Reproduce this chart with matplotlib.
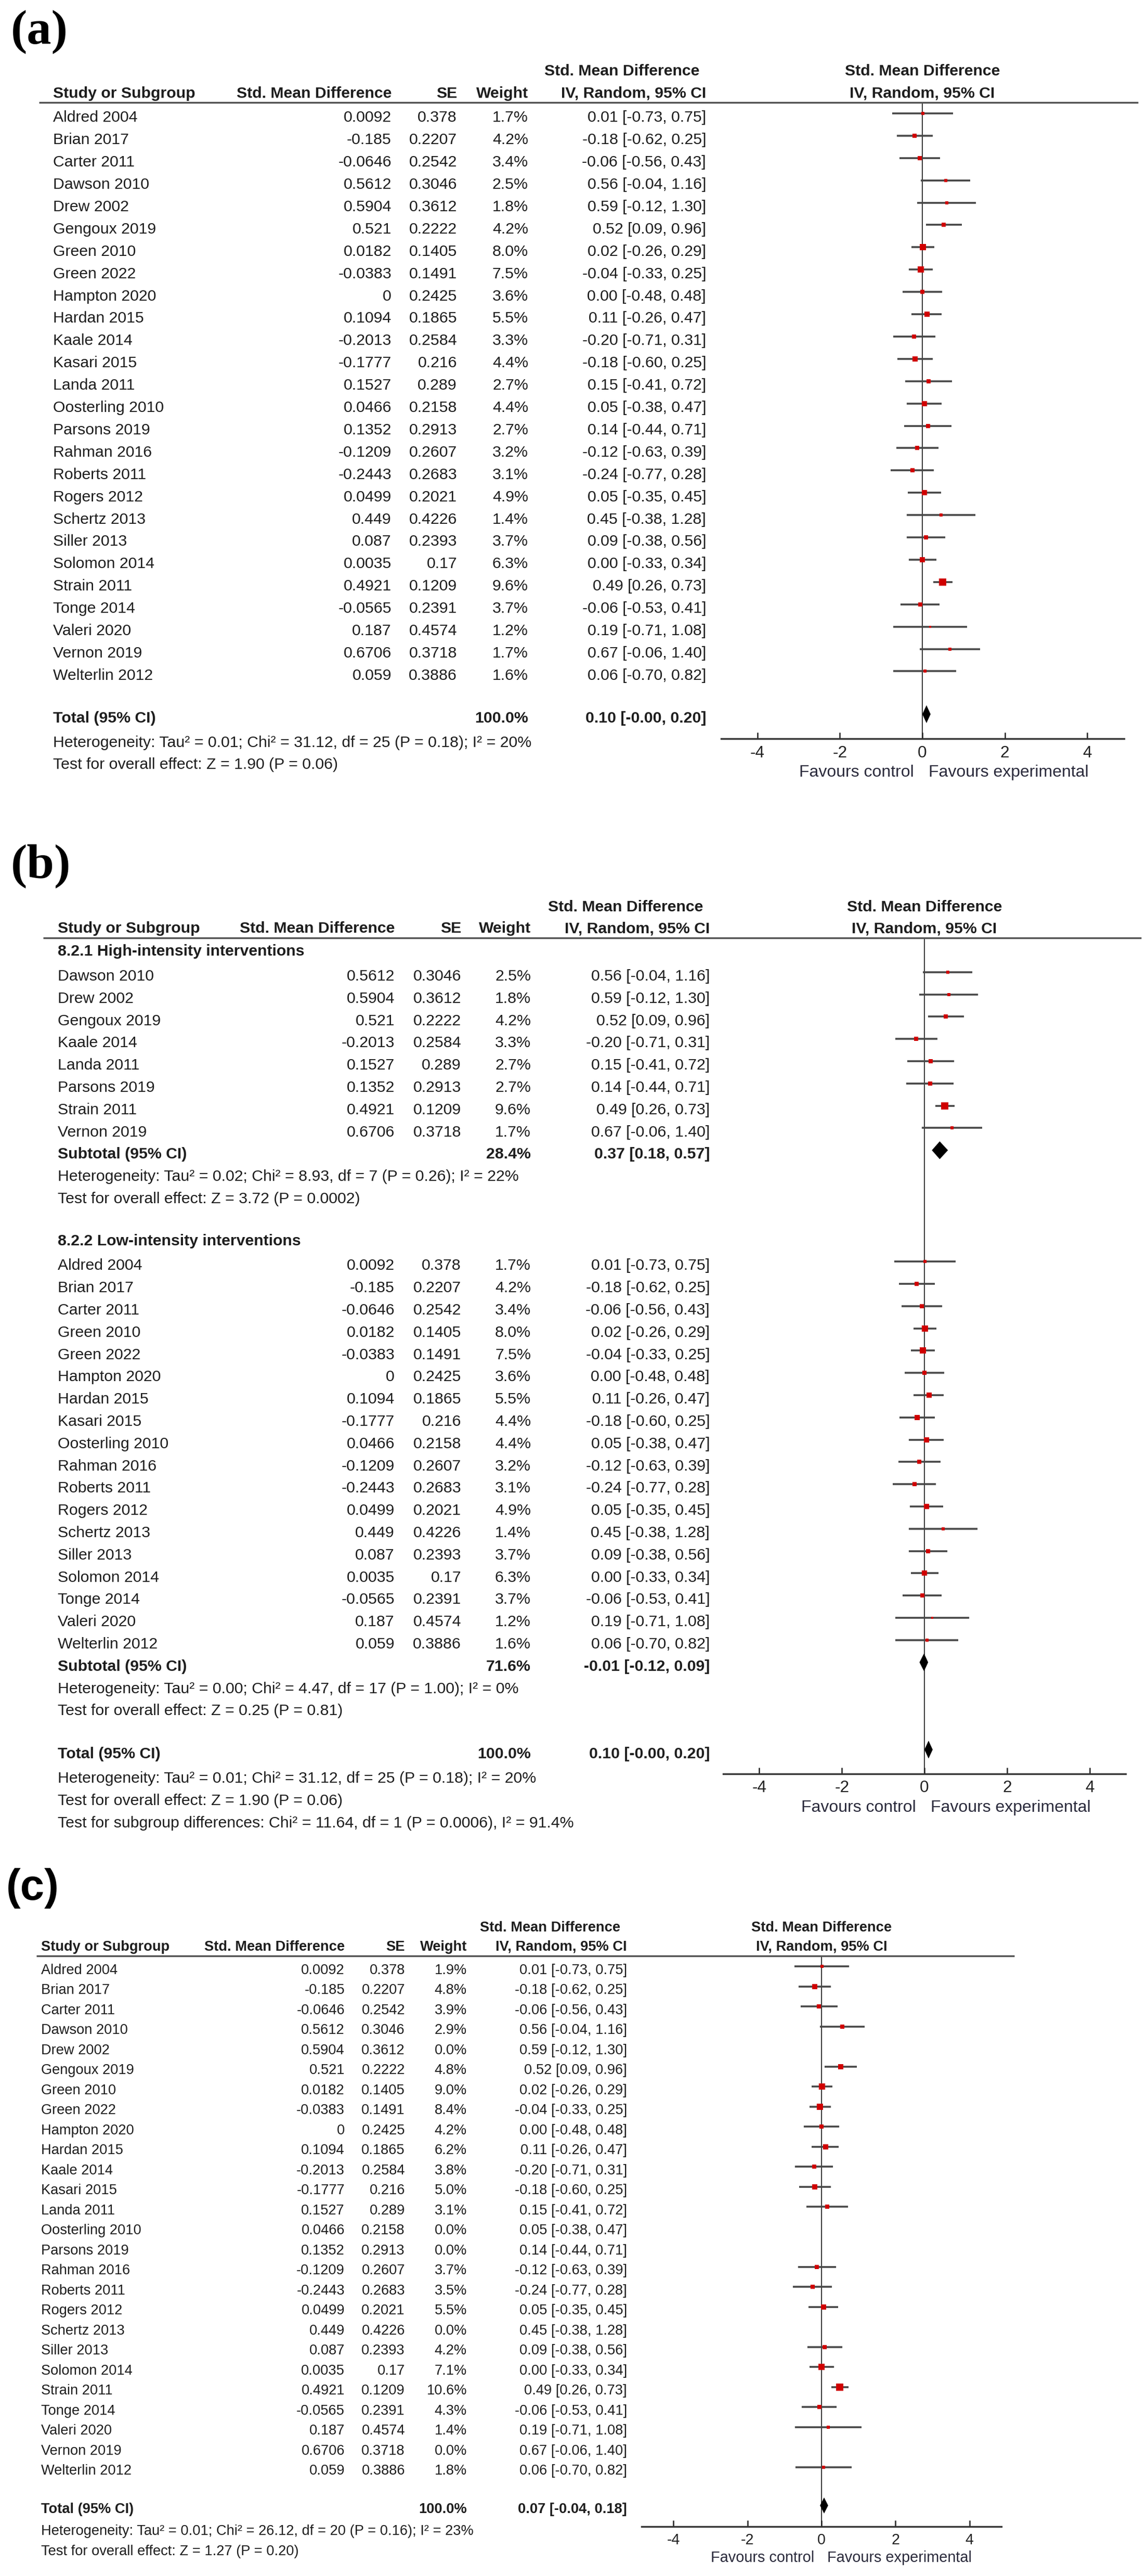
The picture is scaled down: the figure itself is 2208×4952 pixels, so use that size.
import numpy as np
import matplotlib
matplotlib.use("Agg")
import matplotlib.pyplot as plt
import matplotlib.transforms as mtransforms

plt.rcParams["font.family"] = ["Liberation Sans", "DejaVu Sans"]

# ------------------------------------------------------------
# data
# ------------------------------------------------------------
studies = ["Aldred 2004", "Brian 2017", "Carter 2011", "Dawson 2010", "Drew 2002",
           "Gengoux 2019", "Green 2010", "Green 2022", "Hampton 2020", "Hardan 2015",
           "Kaale 2014", "Kasari 2015", "Landa 2011", "Oosterling 2010", "Parsons 2019",
           "Rahman 2016", "Roberts 2011", "Rogers 2012", "Schertz 2013", "Siller 2013",
           "Solomon 2014", "Strain 2011", "Tonge 2014", "Valeri 2020", "Vernon 2019",
           "Welterlin 2012"]
smd = [0.0092, -0.185, -0.0646, 0.5612, 0.5904, 0.521, 0.0182, -0.0383, 0, 0.1094,
       -0.2013, -0.1777, 0.1527, 0.0466, 0.1352, -0.1209, -0.2443, 0.0499, 0.449, 0.087,
       0.0035, 0.4921, -0.0565, 0.187, 0.6706, 0.059]
se = [0.378, 0.2207, 0.2542, 0.3046, 0.3612, 0.2222, 0.1405, 0.1491, 0.2425, 0.1865,
      0.2584, 0.216, 0.289, 0.2158, 0.2913, 0.2607, 0.2683, 0.2021, 0.4226, 0.2393,
      0.17, 0.1209, 0.2391, 0.4574, 0.3718, 0.3886]
ci_lo = [-0.73, -0.62, -0.56, -0.04, -0.12, 0.09, -0.26, -0.33, -0.48, -0.26,
         -0.71, -0.60, -0.41, -0.38, -0.44, -0.63, -0.77, -0.35, -0.38, -0.38,
         -0.33, 0.26, -0.53, -0.71, -0.06, -0.70]
ci_hi = [0.75, 0.25, 0.43, 1.16, 1.30, 0.96, 0.29, 0.25, 0.48, 0.47,
         0.31, 0.25, 0.72, 0.47, 0.71, 0.39, 0.28, 0.45, 1.28, 0.56,
         0.34, 0.73, 0.41, 1.08, 1.40, 0.82]
weight_ab = [1.7, 4.2, 3.4, 2.5, 1.8, 4.2, 8.0, 7.5, 3.6, 5.5, 3.3, 4.4, 2.7, 4.4, 2.7,
             3.2, 3.1, 4.9, 1.4, 3.7, 6.3, 9.6, 3.7, 1.2, 1.7, 1.6]
weight_c = [1.9, 4.8, 3.9, 2.9, 0.0, 4.8, 9.0, 8.4, 4.2, 6.2, 3.8, 5.0, 3.1, 0.0, 0.0,
            3.7, 3.5, 5.5, 0.0, 4.2, 7.1, 10.6, 4.3, 1.4, 0.0, 1.8]
high_intensity = ["Dawson 2010", "Drew 2002", "Gengoux 2019", "Kaale 2014", "Landa 2011",
                  "Parsons 2019", "Strain 2011", "Vernon 2019"]

# pooled estimates [est, lo, hi], weight
total_ab = [0.10, -0.00, 0.20]
sub_high = [0.37, 0.18, 0.57]
sub_low = [-0.01, -0.12, 0.09]
sub_high_w = 28.4
sub_low_w = 71.6
total_c = [0.07, -0.04, 0.18]

het_total_ab = "Heterogeneity: Tau\u00b2 = 0.01; Chi\u00b2 = 31.12, df = 25 (P = 0.18); I\u00b2 = 20%"
z_total_ab = "Test for overall effect: Z = 1.90 (P = 0.06)"
het_high = "Heterogeneity: Tau\u00b2 = 0.02; Chi\u00b2 = 8.93, df = 7 (P = 0.26); I\u00b2 = 22%"
z_high = "Test for overall effect: Z = 3.72 (P = 0.0002)"
het_low = "Heterogeneity: Tau\u00b2 = 0.00; Chi\u00b2 = 4.47, df = 17 (P = 1.00); I\u00b2 = 0%"
z_low = "Test for overall effect: Z = 0.25 (P = 0.81)"
subgroup_diff = "Test for subgroup differences: Chi\u00b2 = 11.64, df = 1 (P = 0.0006), I\u00b2 = 91.4%"
het_c = "Heterogeneity: Tau\u00b2 = 0.01; Chi\u00b2 = 26.12, df = 20 (P = 0.16); I\u00b2 = 23%"
z_c = "Test for overall effect: Z = 1.27 (P = 0.20)"

tick_vals = [-4, -2, 0, 2, 4]
tick_labels = ["-4", "-2", "0", "2", "4"]

# ------------------------------------------------------------
# look
# ------------------------------------------------------------
W, H = 2208, 4952
TXT = "#1e1e1e"
LINE = "#474747"
RED = "#d00000"
BASE = 0.38        # text baseline below the row centre (rows)

fig = plt.figure(figsize=(W / 100, H / 100), dpi=100)
fig.patch.set_facecolor("white")


def ci_text(e, lo, hi):
    return f"{e:.2f} [{lo:.2f}, {hi:.2f}]"


def draw_panel(L, entries, headings, summaries, notes):
    sp = L["sp"]
    x0, x1 = L["xlim"]
    left = L["zero"] + x0 * L["unit"]
    right = L["zero"] + x1 * L["unit"]
    top = L["row0"] + L["hdr"] * sp
    bottom = L["row0"] + L["axis"] * sp
    ax = fig.add_axes([left / W, 1 - bottom / H, (right - left) / W, (bottom - top) / H])
    ax.set_xlim(x0, x1)
    ax.set_ylim(L["axis"], L["hdr"])
    ax.patch.set_alpha(0)
    tr = mtransforms.blended_transform_factory(fig.transFigure, ax.transData)
    fs = L["fs"]

    def put(x, r, s, ha="left", bold=False, base=BASE):
        ax.text(x / W, r + base, s, transform=tr, ha=ha, va="baseline", fontsize=fs,
                fontweight="bold" if bold else "normal", color=TXT, clip_on=False)

    # column headers
    h1, h2 = L["h1"], L["h2"]
    put(L["name"], h2, "Study or Subgroup", bold=True, base=0)
    put(L["smd_r"], h2, "Std. Mean Difference", ha="right", bold=True, base=0)
    put(L["se_r"], h2, "SE", ha="right", bold=True, base=0)
    put(L["w_r"], h2, "Weight", ha="right", bold=True, base=0)
    put(L["ci_r"] - 13, h1, "Std. Mean Difference", ha="right", bold=True, base=0)
    put(L["ci_r"], h2, "IV, Random, 95% CI", ha="right", bold=True, base=0)
    for r, s in [(h1, "Std. Mean Difference"), (h2, "IV, Random, 95% CI")]:
        ax.text(0, r, s, ha="center", va="baseline", fontsize=fs, fontweight="bold",
                color=TXT, clip_on=False)
    ax.plot([L["line_l"] / W, L["line_r"] / W], [L["hdr"], L["hdr"]], transform=tr,
            color="#555555", lw=2.5, clip_on=False, solid_capstyle="butt")

    for r, s in headings:
        put(L["name"], r, s, bold=True, base=L.get("head_base", BASE))

    # study rows
    for r, i, w in entries:
        put(L["name"], r, studies[i])
        put(L["smd_r"], r, f"{smd[i]:g}", ha="right")
        put(L["se_r"], r, f"{se[i]:g}", ha="right")
        put(L["w_r"], r, f"{w:.1f}%", ha="right")
        put(L["ci_r"], r, ci_text(smd[i], ci_lo[i], ci_hi[i]), ha="right")
        if w > 0:
            ax.plot([ci_lo[i], ci_hi[i]], [r, r], color=LINE, lw=2.6,
                    solid_capstyle="butt", zorder=2)
            side = 4.3 * np.sqrt(w) * 0.72
            ax.scatter([smd[i]], [r], marker="s", s=side ** 2, color=RED,
                       linewidths=0, zorder=3)

    # pooled rows with diamonds
    dh = L["dia"]
    for r, lab, w, (e, lo, hi) in summaries:
        put(L["name"], r, lab, bold=True)
        put(L["w_r"], r, f"{w:.1f}%", ha="right", bold=True)
        put(L["ci_r"], r, ci_text(e, lo, hi), ha="right", bold=True)
        ax.fill([lo, e, hi, e], [r, r - dh, r, r + dh], color="black", lw=0, zorder=4)

    for r, s in notes:
        put(L["name"], r, s)

    ax.axvline(0, color="#333333", lw=1.4, zorder=1)
    for s in ["top", "left", "right"]:
        ax.spines[s].set_visible(False)
    ax.spines["bottom"].set_linewidth(2.4)
    ax.spines["bottom"].set_color("#333333")
    ax.set_yticks([])
    ax.set_xticks(tick_vals)
    ax.set_xticklabels(tick_labels)
    ax.tick_params(axis="x", direction="in", length=9, width=1.8, pad=9,
                   labelsize=fs + 1, colors="#222222")
    ax.text(-0.2, L["fav"], "Favours control", ha="right", va="center",
            fontsize=fs + 1.2, color="#2b2b3c", clip_on=False)
    ax.text(0.15, L["fav"], "Favours experimental", ha="left", va="center",
            fontsize=fs + 1.2, color="#2b2b3c", clip_on=False)
    return ax


# ------------------------------------------------------------
# (a) all studies
# ------------------------------------------------------------
LA = dict(sp=42.9, row0=218, hdr=-0.49, axis=28.02, zero=1774, unit=79.3,
          xlim=(-4.88, 4.89), fs=21.8, h1=-1.70, h2=-0.70, name=102, smd_r=753,
          se_r=879, w_r=1016, ci_r=1358, line_l=75, line_r=2189, dia=0.40, fav=29.53)
entries_a = [(k, k, weight_ab[k]) for k in range(len(studies))]
draw_panel(LA, entries_a, [],
           [(26.92, "Total (95% CI)", 100.0, total_ab)],
           [(28.02, het_total_ab), (29.0, z_total_ab)])

# ------------------------------------------------------------
# (b) by intensity subgroup
# ------------------------------------------------------------
high_ids = [k for k in range(len(studies)) if studies[k] in high_intensity]
low_ids = [k for k in range(len(studies)) if studies[k] not in high_intensity]
entries_b = [(1 + j, k, weight_ab[k]) for j, k in enumerate(high_ids)]
r_low = 1 + len(high_ids) + 5
entries_b += [(r_low + j, k, weight_ab[k]) for j, k in enumerate(low_ids)]
r_sub1 = 1 + len(high_ids)
r_sub2 = r_low + len(low_ids)
LB = dict(sp=42.8, row0=1826, hdr=-0.54, axis=37.0, zero=1778, unit=79.4,
          xlim=(-4.88, 4.88), fs=21.8, h1=-1.73, h2=-0.77, name=111, smd_r=759,
          se_r=887, w_r=1021, ci_r=1365, line_l=83, line_r=2195, dia=0.40, fav=38.53,
          head_base=0.26)
draw_panel(LB, entries_b,
           [(0, "8.2.1 High-intensity interventions"),
            (r_low - 1, "8.2.2 Low-intensity interventions")],
           [(r_sub1, "Subtotal (95% CI)", sub_high_w, sub_high),
            (r_sub2, "Subtotal (95% CI)", sub_low_w, sub_low),
            (35.92, "Total (95% CI)", 100.0, total_ab)],
           [(r_sub1 + 1, het_high), (r_sub1 + 2, z_high),
            (r_sub2 + 1, het_low), (r_sub2 + 2, z_low),
            (37.02, het_total_ab), (38.03, z_total_ab), (39.04, subgroup_diff)])

# ------------------------------------------------------------
# (c) sensitivity analysis
# ------------------------------------------------------------
LC = dict(sp=38.5, row0=3780, hdr=-0.52, axis=27.97, zero=1580, unit=71.2,
          xlim=(-4.86, 4.86), fs=19.6, h1=-1.74, h2=-0.78, name=79, smd_r=663,
          se_r=779, w_r=898, ci_r=1206, line_l=70, line_r=1951, dia=0.40, fav=29.53)
entries_c = [(k, k, weight_c[k]) for k in range(len(studies))]
draw_panel(LC, entries_c, [],
           [(26.92, "Total (95% CI)", 100.0, total_c)],
           [(28.01, het_c), (29.02, z_c)])

# panel letters
fig.text(21 / W, 1 - 62 / H, "(a)", fontsize=68, fontweight="bold",
         family="Liberation Serif", va="center", ha="left")
fig.text(21 / W, 1 - 1665 / H, "(b)", fontsize=68, fontweight="bold",
         family="Liberation Serif", va="center", ha="left")
fig.text(12 / W, 1 - 3630 / H, "(c)", fontsize=60, fontweight="bold",
         family="Liberation Sans", va="center", ha="left")

fig.savefig("out.png", dpi=100, facecolor="white")
